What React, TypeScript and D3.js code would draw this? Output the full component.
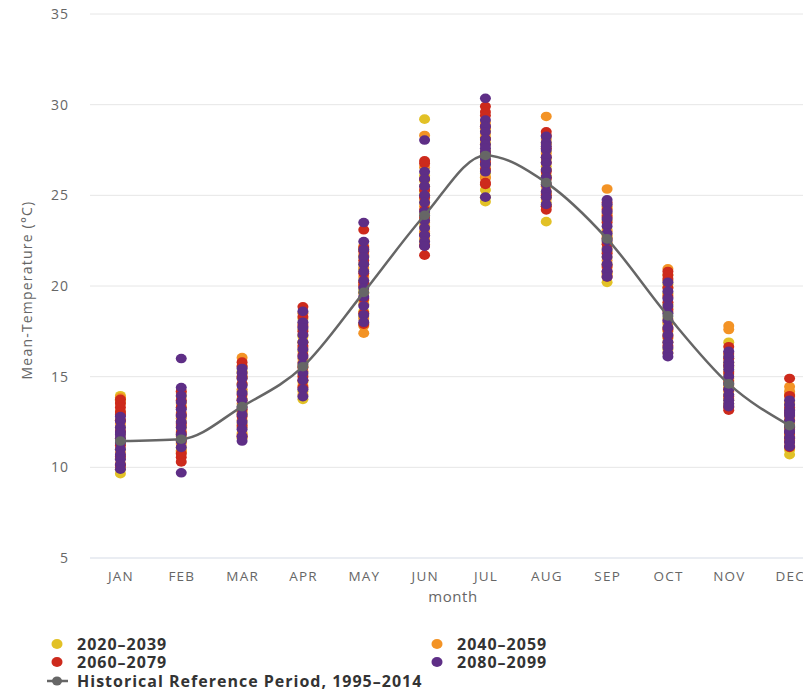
import React from "react";
import * as d3 from "d3";

const months = ["JAN","FEB","MAR","APR","MAY","JUN","JUL","AUG","SEP","OCT","NOV","DEC"];
const yTicks = [5,10,15,20,25,30,35];
const historical = [11.45,11.55,13.35,15.55,19.65,23.9,27.2,25.7,22.6,18.35,14.6,12.3];

const s2020 = [
  [13.95,13.7,9.65,9.9,11.0,11.8,12.2,10.5,12.6,11.3],
  [13.9,12.8,11.4,12.2,10.9,13.3,11.8,12.5,11.1,13.6],
  [15.3,14.6,13.1,12.4,11.6,13.8,12.9,14.2,11.9,15.0],
  [18.2,17.6,16.4,15.1,14.2,13.75,16.9,15.6,14.7,17.2],
  [21.6,20.9,19.8,18.6,17.9,20.3,19.2,21.2,18.3,22.0],
  [29.2,25.8,24.6,23.3,22.5,26.1,24.0,25.2,22.9,23.7],
  [28.6,27.9,27.0,26.2,24.65,25.3,28.2,26.7,27.5,24.9],
  [27.9,27.0,26.1,25.2,24.6,23.55,26.6,25.6,24.9,27.4],
  [24.3,23.6,22.8,21.9,21.2,20.2,23.1,22.4,20.7,21.6],
  [20.6,19.6,18.8,17.9,17.1,16.5,19.0,18.2,17.5,20.1],
  [16.9,16.2,15.5,14.8,14.0,13.4,15.1,14.4,13.7,15.8],
  [13.6,12.9,12.1,11.5,10.95,10.7,13.2,12.5,11.8,14.0],
];
const s2040 = [
  [13.85,13.5,12.9,10.2,11.6,12.4,10.8,11.9,13.1,10.0],
  [14.1,13.0,10.8,12.0,11.3,13.5,12.7,10.9,11.7,12.3],
  [16.05,15.6,14.3,12.6,13.5,11.8,14.9,12.2,13.0,15.2],
  [18.5,17.9,16.6,15.3,14.5,16.0,17.3,14.0,15.8,16.9],
  [22.2,21.0,20.5,19.0,17.4,18.2,21.7,19.6,20.1,17.8],
  [28.3,26.55,25.5,24.4,23.5,22.6,25.0,23.0,24.8,22.3],
  [29.0,28.4,27.4,26.5,25.95,27.8,26.0,28.7,26.9,27.2],
  [29.35,28.1,27.3,26.4,25.5,24.8,27.8,26.0,24.4,25.1],
  [25.35,24.4,23.9,23.0,22.1,21.4,20.6,24.0,22.7,21.0],
  [20.95,20.3,19.5,18.6,17.7,16.9,16.3,19.9,18.0,17.3],
  [17.8,17.6,16.0,15.3,14.5,13.8,14.9,15.7,13.5,14.2],
  [14.45,14.2,13.9,13.1,12.4,11.7,11.2,12.8,13.5,14.0],
];
const s2060 = [
  [13.75,13.55,13.3,13.05,12.9,10.1,11.2,12.0,12.6,10.6],
  [14.2,13.7,10.55,10.3,10.75,12.9,11.5,12.4,13.3,11.9],
  [15.8,15.55,14.0,13.7,12.3,14.6,12.8,11.7,13.2,15.0],
  [18.85,18.3,17.5,16.2,14.4,15.0,16.7,17.8,15.5,14.8],
  [23.1,22.1,21.4,20.7,20.2,19.3,18.5,17.9,21.9,20.0],
  [26.9,26.75,25.9,24.9,23.8,22.8,21.7,24.2,25.3,22.2],
  [29.9,29.6,29.4,28.1,27.3,26.4,25.6,25.7,28.8,26.8],
  [28.5,28.3,27.6,26.8,25.9,25.0,24.4,24.2,26.3,27.1],
  [24.6,24.2,23.5,22.6,21.8,21.1,20.8,23.8,22.3,20.5],
  [20.8,20.6,20.4,19.9,19.4,19.1,17.6,18.7,16.7,17.2],
  [16.65,16.3,15.6,14.7,13.9,13.15,13.3,15.2,14.3,16.0],
  [14.9,13.95,13.3,12.6,11.9,11.4,11.1,12.2,13.0,11.6],
];
const s2080 = [
  [12.8,12.55,12.2,11.95,11.6,11.35,11.0,10.7,10.45,10.15,9.9,11.8],
  [16.0,14.4,13.95,13.6,13.2,12.85,12.5,12.2,11.8,11.45,11.1,9.7],
  [15.45,15.2,14.9,14.5,14.1,13.7,13.3,12.9,12.5,12.1,11.7,11.45],
  [18.6,18.0,17.7,17.3,16.9,16.5,16.1,15.7,15.2,14.8,14.3,13.9],
  [23.5,22.45,22.0,21.6,21.2,20.8,20.3,19.9,19.4,18.9,18.4,18.0],
  [28.05,26.3,25.9,25.5,25.0,24.6,24.1,23.6,23.2,22.8,22.45,22.2],
  [30.35,29.15,28.8,28.5,28.1,27.8,27.4,27.0,26.7,26.3,24.9,27.6],
  [28.25,27.9,27.5,27.1,26.8,26.4,26.0,25.6,25.2,24.9,24.5,27.7],
  [24.75,24.5,24.1,23.7,23.3,22.9,22.5,22.0,21.6,21.2,20.8,20.5],
  [20.2,19.7,19.3,18.9,18.5,18.1,17.7,17.3,16.9,16.6,16.3,16.1],
  [16.4,16.1,15.8,15.4,15.0,14.6,14.3,14.0,13.7,13.5,13.35,15.6],
  [13.7,13.45,13.15,12.85,12.55,12.25,11.95,11.65,11.4,11.15,13.0,12.0],
];

const seriesNames = ["2020–2039","2040–2059","2060–2079","2080–2099"];
const seriesColors = ["#e2c126","#f39325","#cd2a1c","#5e2e86"];
const histName = "Historical Reference Period, 1995–2014";
const histColor = "#666666";

const W = 803, H = 692;
const left = 90, right = 820, top = 14, bottom = 558;
const FONT = "'Open Sans', 'DejaVu Sans', sans-serif";

export default function App() {
  const x = d3.scaleBand<string>().domain(months).range([left, right]);
  const y = d3.scaleLinear().domain([5, 35]).range([bottom, top]);
  const cx = (i: number) => (x(months[i]) as number) + x.bandwidth() / 2;
  const allSeries = [s2020, s2040, s2060, s2080];
  const line = d3.line<number>().x((_, i) => cx(i)).y(d => y(d)).curve(d3.curveMonotoneX);

  return (
    <svg width={W} height={H} style={{ position: "absolute", left: 0, top: 0, background: "#fff" }} fontFamily={FONT}>
      <rect x={0} y={0} width={W} height={H} fill="#fff" />
      {yTicks.map(t => (
        <g key={t}>
          <line x1={left} x2={W} y1={y(t)} y2={y(t)} stroke={t === 5 ? "#d5dbe6" : "#e6e6e6"} strokeWidth={1} />
          <text x={69} y={y(t)} dy="0.36em" textAnchor="end" fontSize={14} letterSpacing={1} fill="#666">{t}</text>
        </g>
      ))}
      {months.map((m, i) => (
        <text key={m} x={cx(i) + 0.6} y={581} textAnchor="middle" fontSize={13.5} letterSpacing={1.2} fill="#666">{m}</text>
      ))}
      <text x={453} y={602} textAnchor="middle" fontSize={15} letterSpacing={0.6} fill="#666">month</text>
      <text transform={`translate(32,290) rotate(-90)`} textAnchor="middle" fontSize={14} letterSpacing={1.2} fill="#666">Mean-Temperature (°C)</text>

      {allSeries.map((s, si) => (
        <g key={si}>
          {s.map((vals, mi) => vals.map((v, k) => (
            <ellipse key={`${mi}-${k}`} cx={cx(mi)} cy={y(v)} rx={5.5} ry={4.8} fill={seriesColors[si]} />
          )))}
        </g>
      ))}
      <path d={line(historical) || ""} fill="none" stroke={histColor} strokeWidth={2.5} />
      {historical.map((v, i) => (
        <ellipse key={i} cx={cx(i)} cy={y(v)} rx={5.5} ry={4.8} fill={histColor} />
      ))}

      <g fontSize={16} fontWeight="bold" fill="#333" letterSpacing={1}>
        {seriesNames.map((n, i) => {
          const lx = i % 2 === 0 ? 57 : 437;
          const ly = 644 + Math.floor(i / 2) * 18;
          return (
            <g key={n}>
              <ellipse cx={lx} cy={ly} rx={5.5} ry={5} fill={seriesColors[i]} />
              <text x={lx + 20} y={ly} dy="0.36em">{n}</text>
            </g>
          );
        })}
        <line x1={47} x2={68} y1={681} y2={681} stroke={histColor} strokeWidth={2.5} />
        <ellipse cx={57} cy={681} rx={5} ry={4.5} fill={histColor} />
        <text x={77} y={681} dy="0.36em">{histName}</text>
      </g>
    </svg>
  );
}
